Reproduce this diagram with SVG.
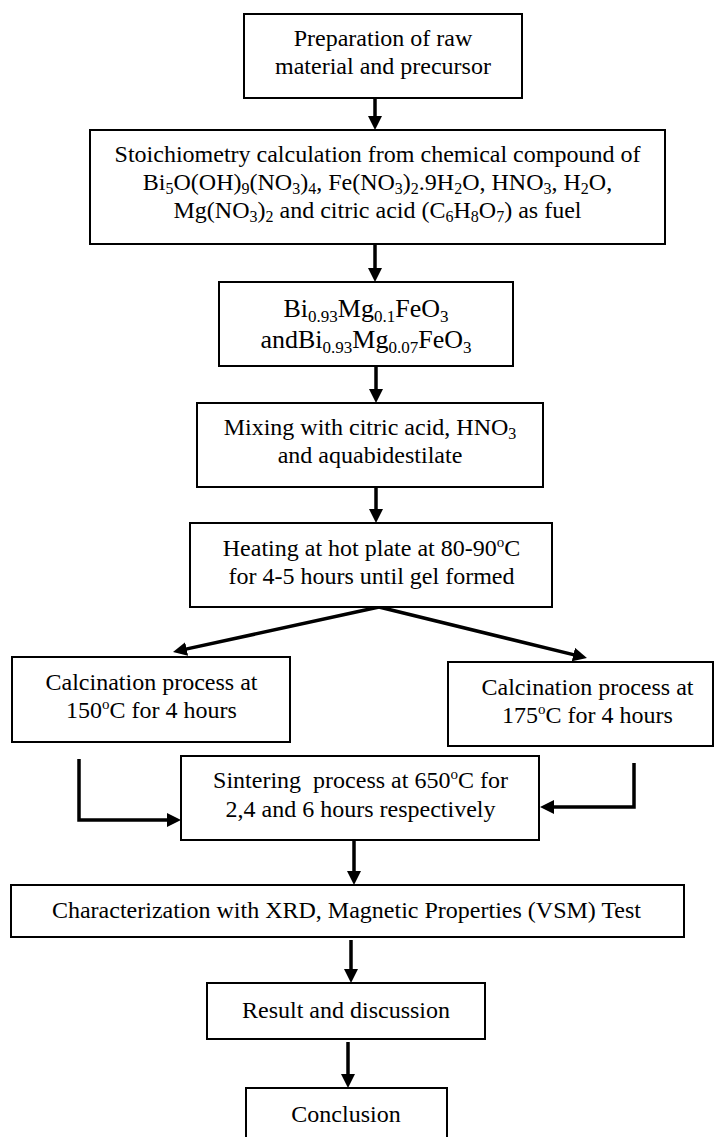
<svg xmlns="http://www.w3.org/2000/svg" width="714" height="1137" viewBox="0 0 714 1137">
<style>
.box{fill:#fff;stroke:#000;stroke-width:2}
.t{font-family:"Liberation Serif","Times New Roman",serif;font-size:24px;fill:#000;text-anchor:middle}
.t26{font-size:26px}
.s{font-size:16px}
.s17{font-size:17px}
.sup{font-size:15px}
.c{fill:none;stroke:#000;stroke-width:3.5}
</style>
<defs>
<marker id="ah" viewBox="0 0 14 14" refX="2" refY="7" markerWidth="14" markerHeight="14" markerUnits="userSpaceOnUse" orient="auto">
<path d="M0,0 L14,7 L0,14 z" fill="#000"/>
</marker>
</defs>
<rect width="714" height="1137" fill="#fff"/>
<g id="connectors">
<path class="c" marker-end="url(#ah)" d="M375,98 V118"/>
<path class="c" marker-end="url(#ah)" d="M375,244 V270"/>
<path class="c" marker-end="url(#ah)" d="M376,366 V391"/>
<path class="c" marker-end="url(#ah)" d="M376,487 V511"/>
<path class="c" marker-end="url(#ah)" d="M379,607 L184.7,649.4"/>
<path class="c" marker-end="url(#ah)" d="M379,607 L575.3,655.1"/>
<path class="c" marker-end="url(#ah)" d="M79,759 V820 H169"/>
<path class="c" marker-end="url(#ah)" d="M634,763 V807 H552"/>
<path class="c" marker-end="url(#ah)" d="M354,840 V873"/>
<path class="c" marker-end="url(#ah)" d="M351,940 V971"/>
<path class="c" marker-end="url(#ah)" d="M348,1042 V1076"/>
</g>
<g id="n1">
<rect class="box" x="244" y="14" width="278" height="84"/>
<text class="t" x="383" y="46">Preparation of raw</text>
<text class="t" x="383" y="74">material and precursor</text>
</g>
<g id="n2">
<rect class="box" x="90" y="130" width="575" height="114"/>
<text class="t" x="377.5" y="162">Stoichiometry calculation from chemical compound of</text>
<text class="t" x="377.5" y="190">Bi<tspan class="s" dy="4">5</tspan><tspan dy="-4">O(OH)</tspan><tspan class="s" dy="4">9</tspan><tspan dy="-4">(NO</tspan><tspan class="s" dy="4">3</tspan><tspan dy="-4">)</tspan><tspan class="s" dy="4">4</tspan><tspan dy="-4">, Fe(NO</tspan><tspan class="s" dy="4">3</tspan><tspan dy="-4">)</tspan><tspan class="s" dy="4">2</tspan><tspan dy="-4">.9H</tspan><tspan class="s" dy="4">2</tspan><tspan dy="-4">O, HNO</tspan><tspan class="s" dy="4">3</tspan><tspan dy="-4">, H</tspan><tspan class="s" dy="4">2</tspan><tspan dy="-4">O,</tspan></text>
<text class="t" x="377.5" y="218">Mg(NO<tspan class="s" dy="4">3</tspan><tspan dy="-4">)</tspan><tspan class="s" dy="4">2</tspan><tspan dy="-4"> and citric acid (C</tspan><tspan class="s" dy="4">6</tspan><tspan dy="-4">H</tspan><tspan class="s" dy="4">8</tspan><tspan dy="-4">O</tspan><tspan class="s" dy="4">7</tspan><tspan dy="-4">) as fuel</tspan></text>
</g>
<g id="n3">
<rect class="box" x="219" y="282" width="294" height="84"/>
<text class="t t26" x="366" y="317">Bi<tspan class="s17" dy="5">0.93</tspan><tspan dy="-5">Mg</tspan><tspan class="s17" dy="5">0.1</tspan><tspan dy="-5">FeO</tspan><tspan class="s17" dy="5">3</tspan></text>
<text class="t t26" x="366" y="348">andBi<tspan class="s17" dy="5">0.93</tspan><tspan dy="-5">Mg</tspan><tspan class="s17" dy="5">0.07</tspan><tspan dy="-5">FeO</tspan><tspan class="s17" dy="5">3</tspan></text>
</g>
<g id="n4">
<rect class="box" x="197" y="403" width="346" height="84"/>
<text class="t" x="370" y="435">Mixing with citric acid, HNO<tspan class="s" dy="4">3</tspan></text>
<text class="t" x="370" y="463">and aquabidestilate</text>
</g>
<g id="n5">
<rect class="box" x="190" y="523" width="362" height="84"/>
<text class="t" x="371.5" y="556">Heating at hot plate at 80-90<tspan class="sup" dy="-9">o</tspan><tspan dy="9">C</tspan></text>
<text class="t" x="371.5" y="584">for 4-5 hours until gel formed</text>
</g>
<g id="n6">
<rect class="box" x="12" y="657" width="278" height="85"/>
<text class="t" x="151.5" y="690">Calcination process at</text>
<text class="t" x="151.5" y="718">150<tspan class="sup" dy="-9">o</tspan><tspan dy="9">C for 4 hours</tspan></text>
</g>
<g id="n7">
<rect class="box" x="448" y="662" width="265" height="84"/>
<text class="t" x="587.5" y="695">Calcination process at</text>
<text class="t" x="587.5" y="723">175<tspan class="sup" dy="-9">o</tspan><tspan dy="9">C for 4 hours</tspan></text>
</g>
<g id="n8">
<rect class="box" x="181" y="756" width="358" height="84"/>
<text class="t" x="360.5" y="788" xml:space="preserve">Sintering  process at 650<tspan class="sup" dy="-9">o</tspan><tspan dy="9">C for</tspan></text>
<text class="t" x="360.5" y="817">2,4 and 6 hours respectively</text>
</g>
<g id="n9">
<rect class="box" x="11" y="885" width="673" height="52"/>
<text class="t" x="346.5" y="918">Characterization with XRD, Magnetic Properties (VSM) Test</text>
</g>
<g id="n10">
<rect class="box" x="207" y="983" width="278" height="56"/>
<text class="t" x="346" y="1018">Result and discussion</text>
</g>
<g id="n11">
<rect class="box" x="246" y="1088" width="201" height="70"/>
<text class="t" x="346" y="1122">Conclusion</text>
</g>
</svg>
